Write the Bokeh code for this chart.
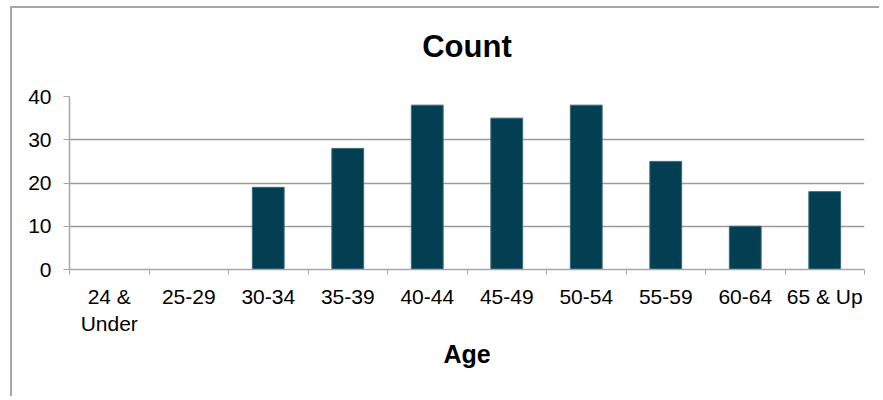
from bokeh.plotting import figure
from bokeh.models import FixedTicker, Range1d, LinearAxis
from bokeh.embed import file_html
from bokeh.resources import INLINE

categories = ["24 &\nUnder", "25-29", "30-34", "35-39", "40-44", "45-49",
              "50-54", "55-59", "60-64", "65 & Up"]
counts = [0, 0, 19, 28, 38, 35, 38, 25, 10, 18]
y_ticks = [0, 10, 20, 30, 40]
title_text = "Count"
x_title = "Age"

FONT = "Liberation Sans"
BAR = "#023f52"
GRID = "#9a9a9a"

xs = [i + 0.5 for i in range(len(categories))]

p = figure(width=869, height=390, output_backend="svg", toolbar_location=None,
           x_range=Range1d(0, len(categories)), y_range=Range1d(0, 40),
           min_border_left=57, min_border_right=17, min_border_top=88,
           min_border_bottom=129, outline_line_color=None,
           styles={"border-left": "2px solid #a6a6a6", "border-top": "2px solid #a6a6a6",
                   "margin-left": "10px", "margin-top": "6px"})

# chart title as a bare axis label above the frame
top_axis = LinearAxis(ticker=FixedTicker(ticks=[]), axis_line_color=None,
                      major_tick_line_color=None, minor_tick_line_color=None,
                      major_tick_out=0, major_tick_in=0, minor_tick_out=0,
                      major_label_standoff=0, major_label_text_font_size="0px",
                      axis_label=title_text, axis_label_standoff=33,
                      axis_label_text_font=FONT, axis_label_text_font_size="31px",
                      axis_label_text_font_style="bold", axis_label_text_color="#000000")
p.add_layout(top_axis, "above")

p.vbar(x=xs, top=counts, width=0.4, bottom=0, fill_color=BAR,
       line_color="#3a6a7a", line_width=1)

# x axis
xa = p.xaxis[0] if p.below else None
xa = p.below[0]
xa.ticker = FixedTicker(ticks=xs, minor_ticks=list(range(len(categories) + 1)))
xa.major_label_overrides = {x: c for x, c in zip(xs, categories)}
xa.major_tick_line_color = None
xa.major_tick_out = 0
xa.major_tick_in = 0
xa.minor_tick_line_color = "#a6a6a6"
xa.minor_tick_out = 5
xa.minor_tick_in = 0
xa.axis_line_color = "#a6a6a6"
xa.axis_line_width = 1.5
xa.major_label_text_font = FONT
xa.major_label_text_font_size = "21px"
xa.major_label_text_color = "#000000"
xa.major_label_standoff = 10
xa.axis_label = x_title
xa.axis_label_text_font = FONT
xa.axis_label_text_font_size = "25px"
xa.axis_label_text_font_style = "bold"
xa.axis_label_text_color = "#000000"
xa.axis_label_standoff = 2

# y axis
ya = p.left[0]
ya.ticker = FixedTicker(ticks=y_ticks, minor_ticks=[])
ya.major_tick_line_color = "#a6a6a6"
ya.major_tick_out = 6
ya.major_tick_in = 0
ya.minor_tick_line_color = None
ya.axis_line_color = "#a6a6a6"
ya.axis_line_width = 1.5
ya.major_label_text_font = FONT
ya.major_label_text_font_size = "21px"
ya.major_label_text_color = "#000000"
ya.major_label_standoff = 12

p.xgrid.grid_line_color = None
p.ygrid.grid_line_color = GRID
p.ygrid.grid_line_width = 1.5
p.ygrid.ticker = FixedTicker(ticks=y_ticks)

open("out.html", "w").write(file_html(p, INLINE))
